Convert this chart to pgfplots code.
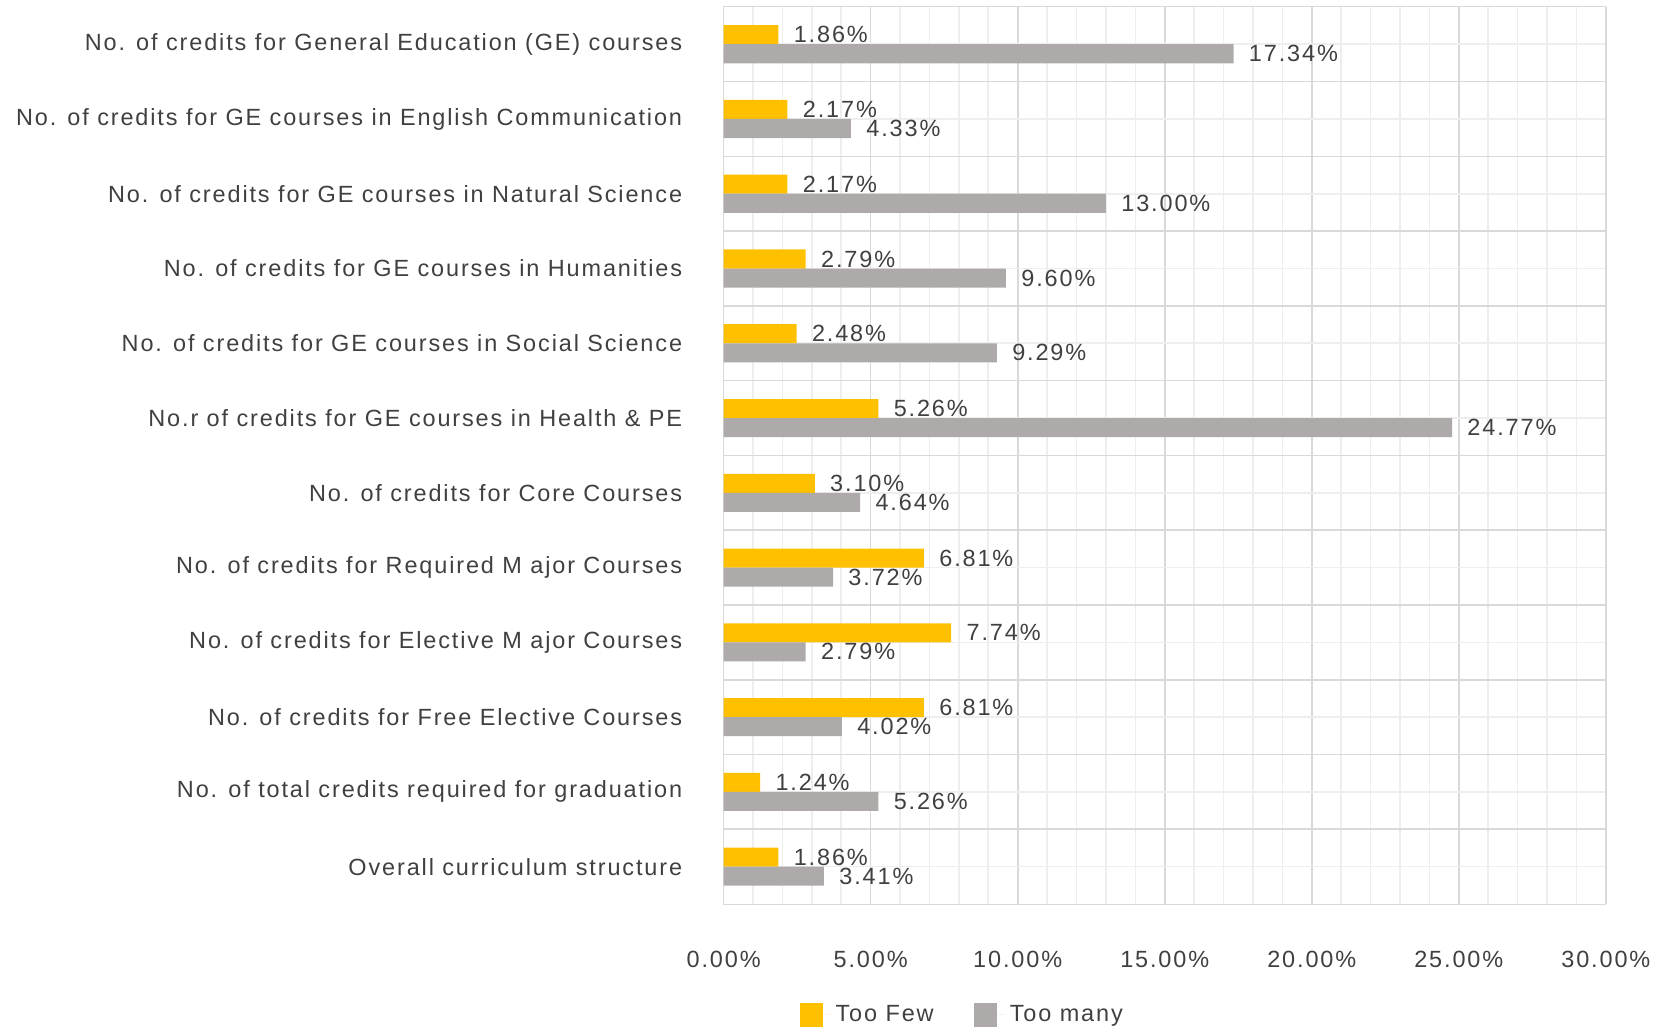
\documentclass[border=0pt]{standalone}
\usepackage{pgfplots}
\pgfplotsset{compat=1.18}
\usepackage{fontspec}
\setmainfont{Liberation Sans}[LetterSpace=8]

\definecolor{fewcol}{HTML}{FFC000}
\definecolor{manycol}{HTML}{AEAAAA}
\definecolor{txt}{HTML}{404040}
\definecolor{majgrid}{HTML}{D9D9D9}
\definecolor{mingrid}{HTML}{EEEEEE}

\begin{document}
\begin{tikzpicture}[font=\fontsize{11.7}{13.7}\selectfont]
\begin{axis}[
  scale only axis,
  width=440pt, height=447.5pt,
  xbar, bar width=9.5pt,
  xmin=0, xmax=30,
  ymin=-0.5, ymax=11.5,
  y dir=reverse,
  enlargelimits=false,
  /pgf/number format/assume math mode=true,
  axis line style={draw=majgrid},
  major tick length=0pt, minor tick length=0pt,
  tick style={draw=none},
  xtick pos=bottom, ytick pos=left,
  xtick={0,5,...,30},
  minor xtick={1,2,3,4,6,7,8,9,11,12,13,14,16,17,18,19,21,22,23,24,26,27,28,29},
  xmajorgrids, xminorgrids,
  major grid style={draw=majgrid, line width=0.8pt},
  minor grid style={draw=mingrid, line width=0.8pt},
  xticklabel={\pgfmathprintnumber[fixed,fixed zerofill,precision=2]{\tick}\%},
  xticklabel style={text=txt, yshift=-20pt},
  ytick={0,...,11},
  minor ytick={0,...,11},
  yminorgrids,
  extra y ticks={0.5,1.5,...,10.5},
  extra y tick labels={},
  extra y tick style={ymajorgrids=true},
  yticklabels={
    No. of credits for General Education (GE) courses,
    No. of credits for GE courses in English Communication,
    No. of credits for GE courses in Natural Science,
    No. of credits for GE courses in Humanities,
    No. of credits for GE courses in Social Science,
    No.r of credits for GE courses in Health \& PE,
    No. of credits for Core Courses,
    No. of credits for Required M ajor Courses,
    No. of credits for Elective M ajor Courses,
    No. of credits for Free Elective Courses,
    No. of total credits required for graduation,
    Overall curriculum structure},
  yticklabel style={text=txt, inner sep=0pt, xshift=-20.5pt},
  nodes near coords={\pgfmathprintnumber[fixed,fixed zerofill,precision=2]{\pgfplotspointmeta}\%},
  nodes near coords style={text=txt, anchor=west, inner sep=0pt, xshift=7.5pt},
  legend style={at={(0.2715,-0.1236)}, anchor=center, draw=none, fill=none,
    legend columns=2, inner sep=0pt, text=txt,
    /tikz/every even column/.append style={column sep=18pt}},
  legend image code/.code={\fill[#1] (0pt,-6pt) rectangle (11.7pt,6pt);
    \path (0pt,0pt) -- (16pt,0pt);},
  legend cell align=left,
]
\addplot[draw=none, fill=fewcol, bar shift=4.75pt] coordinates {
  (1.86,0) (2.17,1) (2.17,2) (2.79,3) (2.48,4) (5.26,5)
  (3.10,6) (6.81,7) (7.74,8) (6.81,9) (1.24,10) (1.86,11)
};
\addlegendentry{Too Few}
\addplot[draw=none, fill=manycol, bar shift=-4.75pt] coordinates {
  (17.34,0) (4.33,1) (13.00,2) (9.60,3) (9.29,4) (24.77,5)
  (4.64,6) (3.72,7) (2.79,8) (4.02,9) (5.26,10) (3.41,11)
};
\addlegendentry{Too many}
\end{axis}
\path ([xshift=-8pt]current bounding box.west) ([xshift=5pt]current bounding box.east)
  ([yshift=3pt]current bounding box.north);
\end{tikzpicture}
\end{document}
